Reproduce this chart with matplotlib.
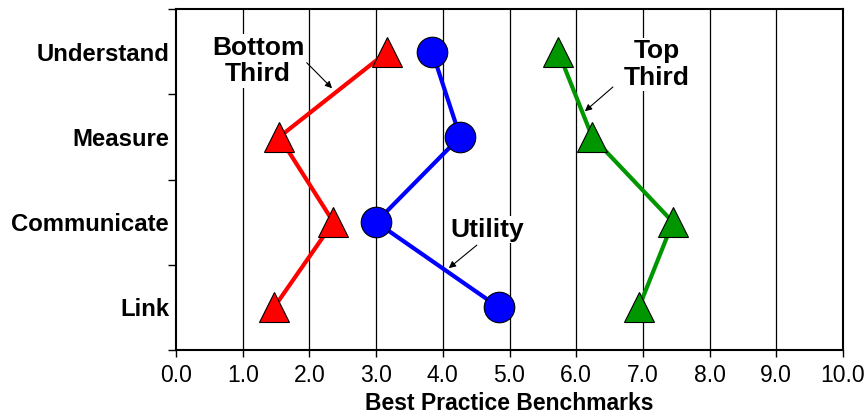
import matplotlib.pyplot as plt

# categories from bottom to top
cats = ['Link', 'Communicate', 'Measure', 'Understand']
ypos = [0.5, 1.5, 2.5, 3.5]

bottom_third = [1.47, 2.36, 1.55, 3.17]
utility = [4.84, 3.00, 4.26, 3.84]
top_third = [6.94, 7.45, 6.24, 5.73]

xticks = [0, 1, 2, 3, 4, 5, 6, 7, 8, 9, 10]

plt.rcParams['font.family'] = ['Liberation Sans', 'DejaVu Sans']

fig = plt.figure(figsize=(8.68, 4.17), dpi=100)
ax = fig.add_axes([176/868, 67/417, 667/868, 341/417])

for x in xticks[1:-1]:
    ax.axvline(x, color='black', lw=0.9, zorder=1)

ax.plot(bottom_third, ypos, color='#ff0000', lw=3, marker='^', ms=22,
        mfc='#ff0000', mec='black', mew=0.8, zorder=3)
ax.plot(utility, ypos, color='#0000ff', lw=3, marker='o', ms=22,
        mfc='#0000ff', mec='black', mew=0.8, zorder=3)
ax.plot(top_third, ypos, color='#009600', lw=3, marker='^', ms=22,
        mfc='#009600', mec='black', mew=0.8, zorder=3)

ax.set_xlim(0, 10)
ax.set_ylim(0, 4)
ax.set_xticks(xticks)
ax.set_xticklabels(['%.1f' % x for x in xticks], fontsize=16.5)
ax.set_yticks([0, 1, 2, 3, 4])
ax.set_yticklabels([])
ax.set_yticks(ypos, minor=True)
ax.set_yticklabels(cats, minor=True, fontsize=17.2, fontweight='bold')
ax.tick_params(axis='y', which='minor', length=0, pad=5)
ax.tick_params(axis='y', which='major', length=6, width=1)
ax.tick_params(axis='x', length=5, width=1, pad=5)
for s in ax.spines.values():
    s.set_linewidth(1.5)

ax.set_xlabel('Best Practice Benchmarks', fontsize=16.5, fontweight='bold', labelpad=4)

box = dict(facecolor='white', edgecolor='none', pad=1)
arw = dict(arrowstyle='-|>', color='black', lw=0.8, mutation_scale=10,
           shrinkA=0, shrinkB=0)
ax.text(1.23, 3.39, 'Bottom\nThird', fontsize=19, fontweight='bold',
        ha='center', va='center', linespacing=1.15, bbox=box, zorder=2)
ax.annotate('', xy=(2.34, 3.07), xytext=(1.96, 3.37), arrowprops=arw, zorder=2)
ax.text(7.21, 3.35, 'Top\nThird', fontsize=19, fontweight='bold',
        ha='center', va='center', linespacing=1.15, bbox=box, zorder=2)
ax.annotate('', xy=(6.13, 2.80), xytext=(6.55, 3.085), arrowprops=arw, zorder=2)
ax.text(4.66, 1.41, 'Utility', fontsize=19, fontweight='bold', ha='center',
        va='center', bbox=box, zorder=2)
ax.annotate('', xy=(4.09, 0.96), xytext=(4.51, 1.23), arrowprops=arw, zorder=2)

fig.savefig('out.png', dpi=100)
